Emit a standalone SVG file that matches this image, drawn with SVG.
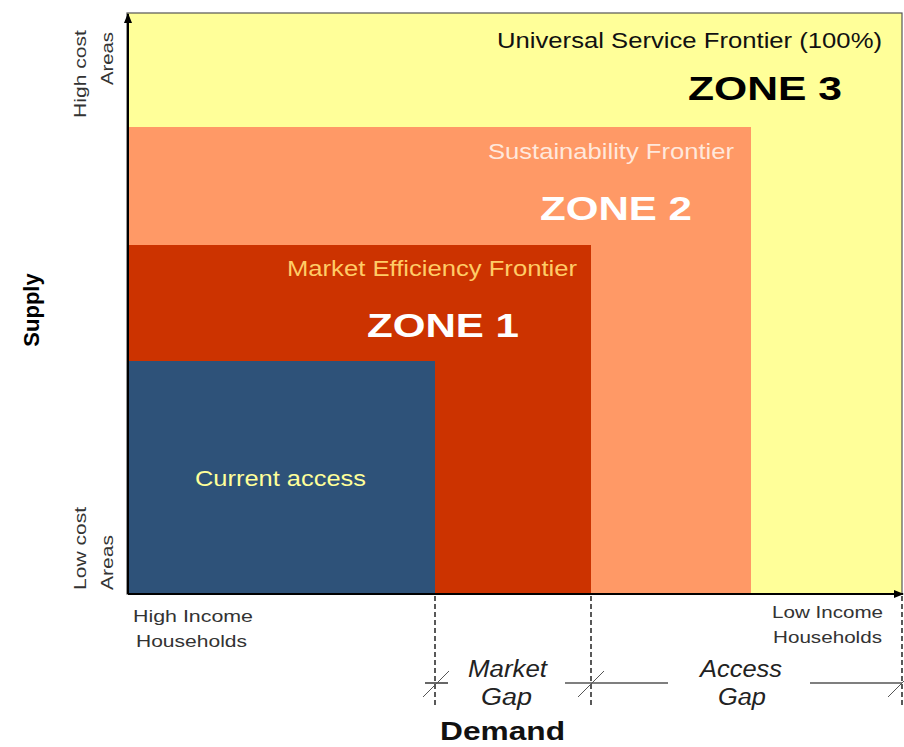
<svg xmlns="http://www.w3.org/2000/svg" width="904" height="747" viewBox="0 0 904 747">
<defs>
<style>
text{font-family:"Liberation Sans",Arial,sans-serif}
.lab{font-size:17px;fill:#333}
.front{font-size:22px}
.zone{font-size:33px;font-weight:bold}
.gap{font-size:23px;font-style:italic;fill:#222}
.dash{stroke:#000;stroke-width:1.3;stroke-dasharray:5,3;fill:none}
.thin{stroke:#000;stroke-width:1.2;fill:none}
.tick{stroke:#555;stroke-width:1;fill:none}
</style>
<marker id="ah" markerWidth="10" markerHeight="10" refX="9" refY="5" orient="auto" markerUnits="userSpaceOnUse">
<path d="M0,1 L10,5 L0,9 z" fill="#000"/>
</marker>
</defs>
<rect width="904" height="747" fill="#fff"/>
<g id="zone3">
<rect x="127" y="13" width="775" height="581" fill="#FFFF99" stroke="#555" stroke-width="1.2"/>
<text x="497" y="48" class="front" fill="#111" textLength="385" lengthAdjust="spacingAndGlyphs">Universal Service Frontier (100%)</text>
<text x="688" y="100" class="zone" fill="#000" textLength="154" lengthAdjust="spacingAndGlyphs">ZONE 3</text>
</g>
<g id="zone2">
<rect x="127" y="127" width="624" height="467" fill="#FF9966"/>
<text x="488" y="159" class="front" fill="#FFE8DC" textLength="246" lengthAdjust="spacingAndGlyphs">Sustainability Frontier</text>
<text x="540" y="220" class="zone" fill="#fff" textLength="152" lengthAdjust="spacingAndGlyphs">ZONE 2</text>
</g>
<g id="zone1">
<rect x="127" y="245" width="464" height="349" fill="#CC3300"/>
<text x="287" y="276" class="front" fill="#FFCC66" textLength="290" lengthAdjust="spacingAndGlyphs">Market Efficiency Frontier</text>
<text x="367" y="337" class="zone" fill="#fff" textLength="152" lengthAdjust="spacingAndGlyphs">ZONE 1</text>
</g>
<g id="current">
<rect x="127" y="361" width="308" height="233" fill="#2E5279"/>
<text x="195" y="486" font-size="22" fill="#FFFF99" textLength="171" lengthAdjust="spacingAndGlyphs">Current access</text>
</g>
<g id="axes">
<line x1="128" y1="594" x2="128" y2="14" stroke="#000" stroke-width="2" marker-end="url(#ah)"/>
<line x1="128" y1="594" x2="903" y2="594" stroke="#000" stroke-width="2" marker-end="url(#ah)"/>
</g>
<g id="labels">
<text transform="translate(39,310) rotate(-90)" font-size="22" font-weight="bold" text-anchor="middle" fill="#000">Supply</text>
<text transform="translate(86,118) rotate(-90)" class="lab" textLength="88" lengthAdjust="spacingAndGlyphs">High cost</text>
<text transform="translate(113,85) rotate(-90)" class="lab" textLength="53" lengthAdjust="spacingAndGlyphs">Areas</text>
<text transform="translate(86,590) rotate(-90)" class="lab" textLength="83" lengthAdjust="spacingAndGlyphs">Low cost</text>
<text transform="translate(113,590) rotate(-90)" class="lab" textLength="55" lengthAdjust="spacingAndGlyphs">Areas</text>
<text x="133" y="622" class="lab" textLength="120" lengthAdjust="spacingAndGlyphs">High Income</text>
<text x="136" y="647" class="lab" textLength="111" lengthAdjust="spacingAndGlyphs">Households</text>
<text x="772" y="618" class="lab" textLength="111" lengthAdjust="spacingAndGlyphs">Low Income</text>
<text x="773" y="643" class="lab" textLength="109" lengthAdjust="spacingAndGlyphs">Households</text>
<text x="440" y="740" font-size="25" font-weight="bold" fill="#111" textLength="125" lengthAdjust="spacingAndGlyphs">Demand</text>
</g>
<g id="gaps">
<line class="dash" x1="435" y1="596" x2="435" y2="708"/>
<line class="dash" x1="591" y1="596" x2="591" y2="708"/>
<line class="dash" x1="902" y1="596" x2="902" y2="708"/>
<line class="thin" x1="425" y1="683" x2="448" y2="683"/>
<line class="thin" x1="565" y1="683" x2="668" y2="683"/>
<line class="thin" x1="810" y1="683" x2="902" y2="683"/>
<line class="tick" x1="423" y1="697" x2="449" y2="671"/>
<line class="tick" x1="578" y1="697" x2="604" y2="671"/>
<line class="tick" x1="888" y1="697" x2="904" y2="681"/>
<text x="468" y="677" class="gap" textLength="79" lengthAdjust="spacingAndGlyphs">Market</text>
<text x="481" y="705" class="gap" textLength="51" lengthAdjust="spacingAndGlyphs">Gap</text>
<text x="700" y="677" class="gap" textLength="82" lengthAdjust="spacingAndGlyphs">Access</text>
<text x="718" y="705" class="gap" textLength="48" lengthAdjust="spacingAndGlyphs">Gap</text>
</g>
</svg>
